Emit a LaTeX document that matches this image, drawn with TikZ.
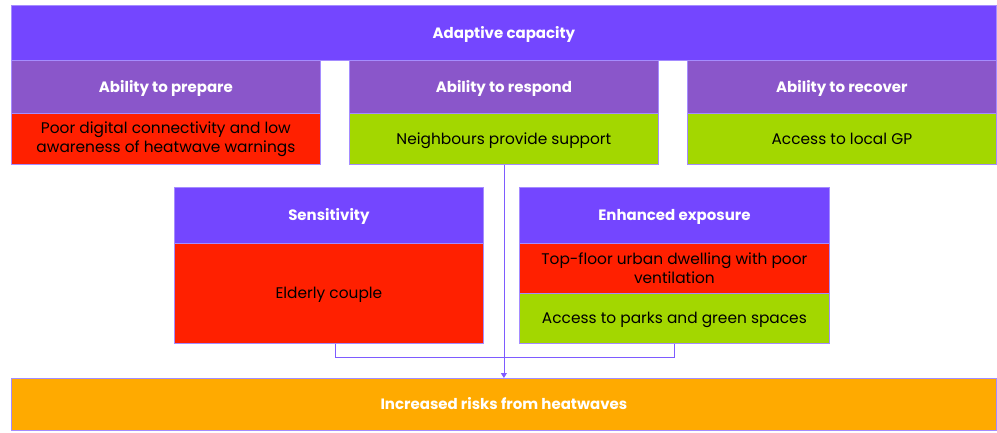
\documentclass[tikz,border=0pt]{standalone}
\usepackage{fontspec}
\setmainfont{Poppins}
\usetikzlibrary{arrows.meta}

\definecolor{capviolet}{HTML}{7446FF}
\definecolor{abilityviolet}{HTML}{8A56CA}
\definecolor{riskred}{HTML}{FF2000}
\definecolor{goodgreen}{HTML}{A3D700}
\definecolor{riskorange}{HTML}{FFAA00}
\definecolor{edgeviolet}{HTML}{A58CFF}
\definecolor{linkviolet}{HTML}{7E5BFF}

\tikzset{
  cell/.style={draw=edgeviolet, line width=0.8pt, anchor=north west,
    inner sep=0pt, align=center, font=\fontsize{15.4}{19}\selectfont},
  oneline/.style={text height=11pt, text depth=0pt},
  headcell/.style={cell, oneline, text=white, font=\bfseries\fontsize{15}{19}\selectfont},
  bodycell/.style={cell, text=black},
  link/.style={draw=linkviolet, line width=0.8pt},
}

\begin{document}
\begin{tikzpicture}[x=1pt, y=-1pt]
  \useasboundingbox (0,0) rectangle (997,432);

  % adaptive capacity banner
  \node[headcell, fill=capviolet, minimum width=985pt, minimum height=55pt]
    (cap) at (11,5) {Adaptive capacity};

  % three abilities
  \node[headcell, fill=abilityviolet, minimum width=309pt, minimum height=53pt]
    (prep) at (11,60) {Ability to prepare};
  \node[bodycell, fill=riskred, minimum width=309pt, minimum height=51pt]
    (prepb) at (11,113) {Poor digital connectivity and low\\awareness of heatwave warnings};

  \node[headcell, fill=abilityviolet, minimum width=309pt, minimum height=53pt]
    (resp) at (349,60) {Ability to respond};
  \node[bodycell, oneline, fill=goodgreen, minimum width=309pt, minimum height=51pt]
    (respb) at (349,113) {Neighbours provide support};

  \node[headcell, fill=abilityviolet, minimum width=309pt, minimum height=53pt]
    (recv) at (687,60) {Ability to recover};
  \node[bodycell, oneline, fill=goodgreen, minimum width=309pt, minimum height=51pt]
    (recvb) at (687,113) {Access to local GP};

  % sensitivity
  \node[headcell, fill=capviolet, minimum width=309pt, minimum height=56pt]
    (sens) at (174,187) {Sensitivity};
  \node[bodycell, oneline, fill=riskred, minimum width=309pt, minimum height=100pt]
    (sensb) at (174,243) {Elderly couple};

  % enhanced exposure
  \node[headcell, fill=capviolet, minimum width=310pt, minimum height=56pt]
    (expo) at (519,187) {Enhanced exposure};
  \node[bodycell, fill=riskred, minimum width=310pt, minimum height=50pt]
    (expob) at (519,243) {Top-floor urban dwelling with poor\\ventilation};
  \node[bodycell, oneline, fill=goodgreen, minimum width=310pt, minimum height=50pt]
    (expoc) at (519,293) {Access to parks and green spaces};

  % outcome
  \node[headcell, fill=riskorange, minimum width=985pt, minimum height=52pt]
    (risk) at (11,378) {Increased risks from heatwaves};

  % connectors
  \draw[link] ([xshift=6pt]sensb.south) -- ++(0,14) -| (expoc.south);
  \draw[link, -{Triangle[width=6pt,length=5pt]}] (respb.south) -- (risk.north);
\end{tikzpicture}
\end{document}
